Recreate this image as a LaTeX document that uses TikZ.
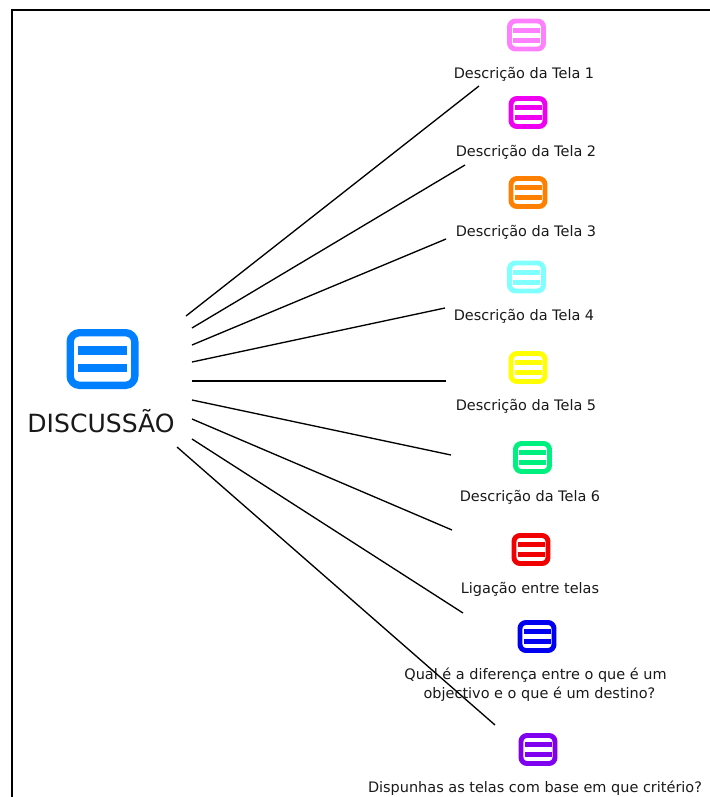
\documentclass[tikz,border=0pt]{standalone}
\usepackage{fontspec}
\setmainfont{DejaVu Sans}
\definecolor{tela1}{HTML}{FF80FF}
\definecolor{tela2}{HTML}{F000F0}
\definecolor{tela3}{HTML}{FF8000}
\definecolor{tela4}{HTML}{80FFFF}
\definecolor{tela5}{HTML}{FFFF00}
\definecolor{tela6}{HTML}{00F080}
\definecolor{ligacao}{HTML}{F00000}
\definecolor{diferenca}{HTML}{0000F0}
\definecolor{criterio}{HTML}{8000F0}
\definecolor{discussao}{HTML}{0080FF}
\tikzset{
    icone/.style={draw=#1,line width=3.7pt,rounded corners=4.5pt,inner sep=0pt,
        minimum width=25.5pt,minimum height=21pt,
        path picture={
            \fill[#1,sharp corners] ([shift={(-13.5,-7.5)}]path picture bounding box.center) rectangle +(27,5);
            \fill[#1,sharp corners] ([shift={(-13.5,2.5)}]path picture bounding box.center) rectangle +(27,5);
        }},
    iconegrande/.style={draw=#1,line width=5.5pt,rounded corners=7pt,inner sep=0pt,
        minimum width=48.5pt,minimum height=39.5pt,
        path picture={
            \fill[#1,sharp corners] ([shift={(-24.5,-13)}]path picture bounding box.center) rectangle +(49,8.5);
            \fill[#1,sharp corners] ([shift={(-24.5,4.5)}]path picture bounding box.center) rectangle +(49,8.5);
        }},
    rotulo/.style={font=\fontsize{10.85pt}{14.2pt}\selectfont,inner sep=0pt,align=center,text=black!90},
    ligacaoTela/.style={draw=black,line width=1pt}
}
\begin{document}
\begin{tikzpicture}[x=0.75pt,y=-0.75pt]
    \useasboundingbox (0,0) rectangle (710,797);
    \draw[line width=2pt] (12,797) -- (12,10) -- (710,10);

    \node[iconegrande=discussao] (Discussao) at (102.5,359) {};
    \node[rotulo,font=\fontsize{18.8pt}{22pt}\selectfont] (DiscussaoTxt) at (101,421) {DISCUSSÃO};

    \node[icone=tela1] (Tela1) at (526.5,35) {};
    \node[rotulo] (Tela1Txt) at (524,74) {Descrição da Tela 1};
    \node[icone=tela2] (Tela2) at (528,112.5) {};
    \node[rotulo] (Tela2Txt) at (526,152) {Descrição da Tela 2};
    \node[icone=tela3] (Tela3) at (528,192.5) {};
    \node[rotulo] (Tela3Txt) at (526,232) {Descrição da Tela 3};
    \node[icone=tela4] (Tela4) at (526.5,277) {};
    \node[rotulo] (Tela4Txt) at (524,316) {Descrição da Tela 4};
    \node[icone=tela5] (Tela5) at (528,367.5) {};
    \node[rotulo] (Tela5Txt) at (526,406) {Descrição da Tela 5};
    \node[icone=tela6] (Tela6) at (532.5,457.5) {};
    \node[rotulo] (Tela6Txt) at (530,497) {Descrição da Tela 6};
    \node[icone=ligacao] (Ligacao) at (531,549.5) {};
    \node[rotulo] (LigacaoTxt) at (530,589) {Ligação entre telas};
    \node[icone=diferenca] (Diferenca) at (537,636.5) {};
    \node[rotulo] (DiferencaTxt) at (535.5,685) {Qual é a diferença entre o que é um\\\hspace*{6pt}objectivo e o que é um destino?};
    \node[icone=criterio] (Criterio) at (538,749.5) {};
    \node[rotulo] (CriterioTxt) at (535,788) {Dispunhas as telas com base em que critério?};

    % pontas soltas das ligacoes
    \coordinate (a1) at (186,316);  \coordinate (b1) at (479,86);
    \coordinate (a2) at (192,328);  \coordinate (b2) at (465,165);
    \coordinate (a3) at (192,345);  \coordinate (b3) at (446,239);
    \coordinate (a4) at (192,362);  \coordinate (b4) at (445,308);
    \coordinate (a5) at (192,381);  \coordinate (b5) at (446,381);
    \coordinate (a6) at (192,400);  \coordinate (b6) at (451,455);
    \coordinate (a7) at (192,419);  \coordinate (b7) at (452,530);
    \coordinate (a8) at (192,439);  \coordinate (b8) at (463,613);
    \coordinate (a9) at (177,447);  \coordinate (b9) at (495,725);

    \path[ligacaoTela] (a1) edge (b1)
    (a2) edge (b2)
    (a3) edge (b3)
    (a4) edge (b4)
    (a5) edge (b5)
    (a6) edge (b6)
    (a7) edge (b7)
    (a8) edge (b8)
    (a9) edge (b9);
\end{tikzpicture}
\end{document}
